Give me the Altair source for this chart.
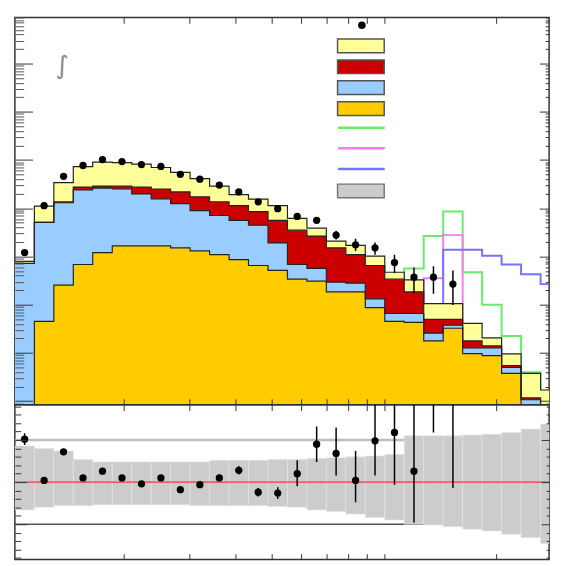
import altair as alt
import numpy as np
import pandas as pd

# ---------------- data ----------------
edges = [102.1, 115.2, 129.9, 146.5, 165.2, 186.4, 210.2, 237.1, 267.3, 301.5,
         340.1, 383.6, 432.5, 488.0, 550.3, 620.7, 699.8, 789.5, 890.2, 1004.1,
         1132.4, 1277.4, 1440.5, 1624.9, 1832.3, 2067.0, 2331.1, 2629.6, 2965.0]
x_domain = [102.1, 2772.0]
y_domain = [8.45e-4, 9.02e4]
r_domain = [0.08, 1.92]

stack_names = ["Background 1", "Background 2", "Background 3", "Background 4"]
stack_colors = ["#ffff99", "#cc0000", "#99ccff", "#ffcc00"]

orange_vals = [0.00026, 0.045, 0.255, 0.68, 1.20, 1.66, 1.66, 1.66, 1.51, 1.31, 1.09, 0.86, 0.65, 0.514,
               0.338, 0.307, 0.184, 0.184, 0.0869, 0.0451, 0.0431, 0.0177, 0.0325, 0.00963, 0.00877,
               0.00378, 0.0, 0.0]
blue_vals = [0.714, 5.05, 12.74, 23.2, 25.0, 23.4, 18.15, 14.0, 10.9, 7.63, 5.98, 4.74, 3.78, 1.394,
             0.343, 0.258, 0.110, 0.096, 0.0455, 0.0206, 0.0226, 0.0080, 0.0049, 0.0031, 0.0040,
             0.0012, 0.00107, 0.0]
red_vals = [0.004, 0.02, 0.62, 3.6, 2.6, 3.8, 7.7, 9.35, 9.35, 8.27, 6.55, 5.69, 4.10, 3.69,
            2.824, 2.082, 1.217, 0.808, 0.5176, 0.272, 0.118, 0.0239, 0.0122, 0.0050, 0.0013,
            0.0005, 0.0001, 0.0]
yellow_vals = [0.073, 5.95, 20.2, 45.7, 61.4, 59.6, 54.7, 44.9, 33.75, 24.0, 15.1, 7.79, 6.95, 5.68,
               2.635, 1.213, 0.56, 0.615, 0.363, 0.132, 0.144, 0.0554, 0.0554, 0.0234, 0.0064,
               0.0041, 0.0026, 0.0017]

data_vals = [1.20, 11.3, 46.0, 76.9, 102, 92.8, 80.6, 73.4, 50.5, 40.0, 30.2, 21.8, 13.6, 9.81,
             6.75, 5.60, 2.77, 1.74, 1.51, 0.748, 0.371, 0.371, 0.267]
data_lo = [1.12, 10.9, 45.0, 75.5, 100, 91.0, 79.0, 71.8, 49.2, 38.8, 29.0, 20.9, 12.9, 9.1,
           5.83, 4.79, 2.24, 1.29, 1.09, 0.456, 0.171, 0.169, 0.099]
data_hi = [1.28, 11.7, 47.0, 78.3, 104, 94.6, 82.2, 75.0, 51.8, 41.2, 31.4, 22.7, 14.4, 10.6,
           7.73, 6.41, 3.42, 2.33, 1.95, 1.08, 0.59, 0.63, 0.51]

sig_names = ["Signal 1", "Signal 2", "Signal 3"]
sig_colors = ["#66ee66", "#ff77ff", "#7373ff"]
N = None
sig_green = [N] * 19 + [0.16, 0.565, 2.65, 8.53, 0.469, 0.100, 0.0224, 0.00396, 0.00155]
sig_pink = [N] * 20 + [0.10, 0.354, 2.77, 0.020, N, N, N, N]
sig_blue = [N] * 21 + [0.05, 1.375, 1.375, 1.038, 0.681, 0.427, 0.267]

ratio_vals = [1.51, 1.02, 1.36, 1.05, 1.13, 1.05, 0.98, 1.05, 0.91, 0.97, 1.05, 1.14, 0.88, 0.87,
              1.10, 1.45, 1.34, 1.02, 1.49, 1.59, 1.13, 3.5, 2.5]
ratio_lo = [1.44, 0.99, 1.33, 1.03, 1.11, 1.03, 0.96, 1.03, 0.89, 0.94, 1.01, 1.09, 0.83, 0.80,
            0.95, 1.24, 1.08, 0.76, 1.08, 0.97, 0.52, 1.59, 0.93]
ratio_hi = [1.58, 1.05, 1.39, 1.07, 1.15, 1.07, 1.00, 1.07, 0.93, 1.00, 1.09, 1.19, 0.93, 0.94,
            1.26, 1.66, 1.65, 1.37, 2.2, 2.3, 2.5, 6.0, 5.0]

band_hi = [1.43, 1.40, 1.37, 1.27, 1.24, 1.24, 1.24, 1.24, 1.24, 1.24, 1.26, 1.26, 1.26, 1.27,
           1.27, 1.28, 1.29, 1.30, 1.31, 1.33, 1.55, 1.55, 1.55, 1.56, 1.57, 1.59, 1.63, 1.69]
band_lo = [0.67, 0.70, 0.72, 0.72, 0.73, 0.73, 0.73, 0.73, 0.73, 0.72, 0.72, 0.72, 0.72, 0.71,
           0.70, 0.67, 0.65, 0.62, 0.58, 0.55, 0.50, 0.49, 0.47, 0.44, 0.42, 0.38, 0.34, 0.27]

# ---------------- tables ----------------
nb = len(edges) - 1
floor = 1e-6
stack_rows = []
cum = np.zeros(nb)
for name, vals in [(stack_names[3], orange_vals), (stack_names[2], blue_vals),
                   (stack_names[1], red_vals), (stack_names[0], yellow_vals)]:
    base = cum.copy()
    cum = cum + np.array(vals)
    for i in range(nb + 1):
        j = min(i, nb - 1)
        stack_rows.append({"x": edges[i], "top": max(cum[j], floor),
                           "base": max(base[j], floor), "comp": name})
stack_df = pd.DataFrame(stack_rows)

sig_rows = []
for name, vals in zip(sig_names, [sig_green, sig_pink, sig_blue]):
    idx = [i for i, v in enumerate(vals) if v is not None]
    for i in idx:
        sig_rows.append({"x": edges[i], "v": vals[i], "sig": name})
    last = idx[-1]
    sig_rows.append({"x": edges[last + 1], "v": vals[last], "sig": name})
sig_df = pd.DataFrame(sig_rows)

nd = len(data_vals)
centers = [float(np.sqrt(edges[i] * edges[i + 1])) for i in range(nb)]
pts_df = pd.DataFrame({"xc": centers[:nd], "d": data_vals, "lo": data_lo, "hi": data_hi,
                       "lab": ["Data"] * nd})
rpts_df = pd.DataFrame({"xc": centers[:nd], "r": ratio_vals, "lo": ratio_lo, "hi": ratio_hi,
                        "lab": ["Data"] * nd})
band_df = pd.DataFrame({"x0": edges[:-1], "x1": edges[1:], "lo": band_lo, "hi": band_hi,
                        "lab": ["Uncertainty"] * nb})

# ---------------- helpers ----------------
def ax(orient, values, size, color="#333333"):
    return alt.Axis(orient=orient, values=values, tickSize=alt.ExprRef(expr=str(-size)),
                    labels=False, domain=False, grid=False, title=None, ticks=True,
                    tickColor=color, tickWidth=1, zindex=2)

xt = [200, 300, 400, 500, 600, 700, 800, 900, 1000, 2000]
ymaj = [10.0 ** k for k in range(-3, 5)]
ymin = [m * 10.0 ** k for k in range(-4, 5) for m in range(2, 10)
        if y_domain[0] < m * 10.0 ** k < y_domain[1]]
rmaj = [0.5, 1.0, 1.5]
rmin = [round(0.1 * k, 1) for k in range(1, 20) if round(0.1 * k, 1) not in rmaj]

xs = alt.Scale(type="log", domain=x_domain, nice=False)
ys = alt.Scale(type="log", domain=y_domain, nice=False)
rs = alt.Scale(domain=r_domain, nice=False, zero=False)

BOX = "M-3.4,-1L3.4,-1L3.4,1L-3.4,1Z"
LINE = "M-3.4,0L3.4,0"

# ---------------- top panel ----------------
sig_layer = alt.Chart(sig_df).mark_line(interpolate="step-after", strokeWidth=2, clip=True).encode(
    x=alt.X("x:Q", scale=xs, axis=ax("bottom", xt, 6)),
    y=alt.Y("v:Q", scale=ys, axis=ax("left", ymaj, 18)),
    stroke=alt.Stroke("sig:N", scale=alt.Scale(domain=sig_names, range=sig_colors),
                      legend=alt.Legend(orient="none", legendX=345, legendY=104, title=None,
                                        symbolType=LINE, symbolSize=196, symbolStrokeWidth=2.5,
                                        labelExpr="''", labelFontSize=1,
                                        rowPadding=7.0, padding=0)),
)

area_layer = alt.Chart(stack_df).mark_area(interpolate="step-after", clip=True, opacity=1).encode(
    x=alt.X("x:Q", scale=xs, axis=ax("top", xt, 6)),
    y=alt.Y("top:Q", scale=ys, axis=ax("right", ymaj, 10), stack=None),
    y2="base:Q",
    fill=alt.Fill("comp:N", scale=alt.Scale(domain=stack_names, range=stack_colors),
                  legend=alt.Legend(orient="none", legendX=345, legendY=21, title=None,
                                    symbolType=BOX, symbolSize=196, symbolStrokeColor="#555555",
                                    symbolStrokeWidth=1.5, symbolOpacity=1,
                                    labelExpr="''", labelFontSize=1,
                                    rowPadding=1.3, padding=0)),
)

outline_layer = alt.Chart(stack_df).mark_line(interpolate="step-after", color="#222222",
                                              strokeWidth=1.2, clip=True).encode(
    x=alt.X("x:Q", scale=xs, axis=None),
    y=alt.Y("top:Q", scale=ys, axis=ax("left", ymin, 9, "#555555")),
    detail="comp:N",
)

err_layer = alt.Chart(pts_df).mark_rule(color="black", strokeWidth=1.5, clip=True).encode(
    x=alt.X("xc:Q", scale=xs, axis=None),
    y=alt.Y("lo:Q", scale=ys, axis=ax("right", ymin, 4)),
    y2="hi:Q",
)

pt_layer = alt.Chart(pts_df).mark_point(filled=True, size=55, color="black", opacity=1, clip=True).encode(
    x=alt.X("xc:Q", scale=xs, axis=None),
    y=alt.Y("d:Q", scale=ys, axis=None),
    shape=alt.Shape("lab:N", scale=alt.Scale(domain=["Data"], range=["circle"]),
                    legend=alt.Legend(orient="none", legendX=349, legendY=3, title=None,
                                      symbolSize=60, symbolFillColor="black",
                                      symbolStrokeColor="black", symbolOpacity=1,
                                      labelExpr="''", labelFontSize=1, padding=0)),
)

txt_layer = alt.Chart(pd.DataFrame({"t": ["\u222b"]})).mark_text(
    fontSize=26, color="#8a8a8a", font="DejaVu Sans").encode(
    x=alt.value(48), y=alt.value(50), text="t:N")

top = alt.layer(sig_layer, area_layer, outline_layer, err_layer, pt_layer, txt_layer).properties(
    width=545, height=395)

# ---------------- ratio panel ----------------
ref_df = pd.DataFrame({"v": [1.5, 0.5], "col": ["#bdbdbd", "#555555"], "w": [2.5, 1.5]})
red_df = pd.DataFrame({"v": [1.0]})

ref_layer = alt.Chart(ref_df).mark_rule(clip=True).encode(
    y=alt.Y("v:Q", scale=rs, axis=ax("left", rmin, 6)),
    stroke=alt.Stroke("col:N", scale=None),
    strokeWidth=alt.StrokeWidth("w:Q", scale=None),
)

band_layer = alt.Chart(band_df).mark_rect(stroke="#e6e6e6", strokeWidth=0.6, clip=True).encode(
    x=alt.X("x0:Q", scale=xs, axis=ax("bottom", xt, 6)),
    x2="x1:Q",
    y=alt.Y("lo:Q", scale=rs, axis=ax("right", rmin, 3)),
    y2="hi:Q",
    fill=alt.Fill("lab:N", scale=alt.Scale(domain=["Uncertainty"], range=["#cccccc"]),
                  legend=alt.Legend(orient="none", legendX=345, legendY=-226, title=None,
                                    symbolType=BOX, symbolSize=196, symbolStrokeColor="#777777",
                                    symbolStrokeWidth=1.5, symbolOpacity=1,
                                    labelExpr="''", labelFontSize=1, padding=0)),
)

red_layer = alt.Chart(red_df).mark_rule(color="#ee6060", strokeWidth=2, clip=True).encode(
    y=alt.Y("v:Q", scale=rs, axis=ax("left", rmaj, 12)),
)

rerr_layer = alt.Chart(rpts_df).mark_rule(color="black", strokeWidth=1.5, clip=True).encode(
    x=alt.X("xc:Q", scale=xs, axis=ax("top", xt, 6)),
    y=alt.Y("lo:Q", scale=rs, axis=ax("right", rmaj, 8)),
    y2="hi:Q",
)

rpt_layer = alt.Chart(rpts_df).mark_point(filled=True, size=55, color="black", opacity=1, clip=True).encode(
    x=alt.X("xc:Q", scale=xs, axis=None),
    y=alt.Y("r:Q", scale=rs, axis=None),
)

bottom = alt.layer(ref_layer, band_layer, red_layer, rerr_layer, rpt_layer).properties(
    width=545, height=158)

chart = alt.vconcat(top, bottom, spacing=0, bounds="flush").resolve_scale(
    fill="independent").resolve_legend(fill="independent").properties(
    padding={"left": 5, "top": 2, "right": 3, "bottom": 3}
).configure_view(stroke="#333333", strokeWidth=1.5)

chart.save("out.html", embed_options={"renderer": "svg", "actions": False})
